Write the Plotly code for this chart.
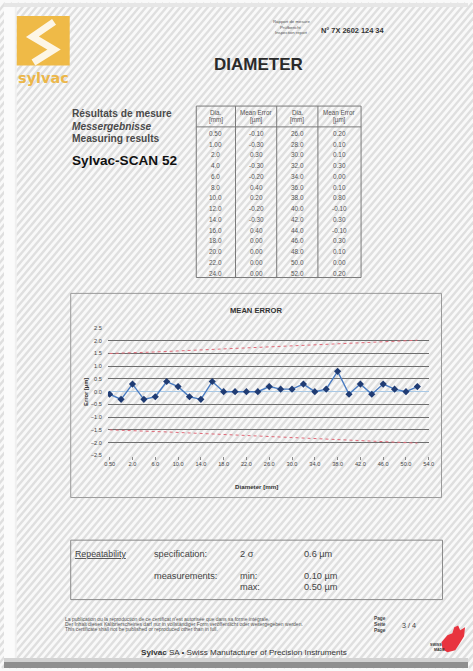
import plotly.graph_objects as go

W, H = 473, 671

# ---------------- data ----------------
diameters = [0.5, 1.0, 2.0, 4.0, 6.0, 8.0, 10.0, 12.0, 14.0, 16.0, 18.0, 20.0, 22.0, 24.0,
             26.0, 28.0, 30.0, 32.0, 34.0, 36.0, 38.0, 40.0, 42.0, 44.0, 46.0, 48.0, 50.0, 52.0]
dia_labels = ["0.50", "1.00", "2.0", "4.0", "6.0", "8.0", "10.0", "12.0", "14.0", "16.0", "18.0",
              "20.0", "22.0", "24.0", "26.0", "28.0", "30.0", "32.0", "34.0", "36.0", "38.0",
              "40.0", "42.0", "44.0", "46.0", "48.0", "50.0", "52.0"]
mean_error = [-0.10, -0.30, 0.30, -0.30, -0.20, 0.40, 0.20, -0.20, -0.30, 0.40, 0.00, 0.00, 0.00, 0.00,
              0.20, 0.10, 0.10, 0.30, 0.00, 0.10, 0.80, -0.10, 0.30, -0.10, 0.30, 0.10, 0.00, 0.20]
upper_limit = [1.50, 1.51, 1.52, 1.54, 1.56, 1.58, 1.60, 1.62, 1.64, 1.66, 1.68, 1.70, 1.72, 1.74,
               1.76, 1.78, 1.80, 1.82, 1.84, 1.86, 1.88, 1.90, 1.92, 1.94, 1.96, 1.98, 2.00, 2.02]
lower_limit = [-1.50, -1.51, -1.52, -1.54, -1.56, -1.58, -1.60, -1.62, -1.64, -1.66, -1.68, -1.70, -1.72, -1.74,
               -1.76, -1.78, -1.80, -1.82, -1.84, -1.86, -1.88, -1.90, -1.92, -1.94, -1.96, -1.98, -2.00, -2.02]
x_tick_labels = ["0.50", "2.0", "6.0", "10.0", "14.0", "18.0", "22.0", "26.0", "30.0", "34.0",
                 "38.0", "42.0", "46.0", "50.0", "54.0"]
table_headers = [("Dia.", "[mm]"), ("Mean Error", "[µm]"), ("Dia.", "[mm]"), ("Mean Error", "[µm]")]
repeat_spec = "0.6 µm"
repeat_min = "0.10 µm"
repeat_max = "0.50 µm"

FONT = "Liberation Sans"
TXT = "#3d3d3d"


def px(x):
    return x / W


def py(y):
    return 1 - y / H


annotations = []
shapes = []


def text(t, x, y, size, color=TXT, xanchor="left", yanchor="middle", angle=0, family=FONT):
    annotations.append(dict(text=t, x=px(x), y=py(y), xref="paper", yref="paper",
                            showarrow=False, xanchor=xanchor, yanchor=yanchor,
                            textangle=angle, borderpad=0,
                            font=dict(size=size, color=color, family=family)))


def rect(x0, y0, x1, y1, line=None, fill=None, width=1, layer="below"):
    shapes.append(dict(type="rect", xref="paper", yref="paper",
                       x0=px(x0), x1=px(x1), y0=py(y1), y1=py(y0),
                       line=dict(color=line if line else "rgba(0,0,0,0)", width=width if line else 0),
                       fillcolor=fill if fill else "rgba(0,0,0,0)", layer=layer))


def seg(x0, y0, x1, y1, color, width=1, layer="below"):
    shapes.append(dict(type="line", xref="paper", yref="paper",
                       x0=px(x0), x1=px(x1), y0=py(y0), y1=py(y1),
                       line=dict(color=color, width=width), layer=layer))


def path(points, line=None, fill=None, width=1, closed=True, layer="above"):
    d = "M " + " L ".join(f"{px(a):.5f},{py(b):.5f}" for a, b in points)
    if closed:
        d += " Z"
    shapes.append(dict(type="path", xref="paper", yref="paper", path=d,
                       line=dict(color=line if line else "rgba(0,0,0,0)", width=width if line else 0),
                       fillcolor=fill if fill else "rgba(0,0,0,0)", layer=layer))


# ---------------- page background (scan stripes) ----------------
for k in range(-90, 75):
    xb = 12 + k * 7.0
    seg(xb, H, xb + H * 0.85, 0, "#dfdfdf", 2.4)
rect(0, 0, 12, H, fill="#fbfbfb")
rect(11, 0, 13, H, fill="#f0f0f0")
rect(0, 0, W, 4, fill="#e6e6e6")
rect(0, 661, W, 665, fill="#d3d3d3")
rect(0, 665, W, H, fill="#8f8f8f")

# ---------------- logo ----------------
rect(13, 13, 67, 63, fill="#efba47", layer="above")
path([(51, 19), (29, 34), (51, 47), (30, 60)], line="#fdf6e6", width=7, closed=False)
text("<b>sylvac</b>", 40, 75.5, 14.5, color="#ecb74a", xanchor="center", family="DejaVu Sans")

# ---------------- header ----------------
text("Rapport de mesure", 293, 19, 4.3, color="#555", xanchor="center")
text("Prüfbericht", 293, 24.5, 4.3, color="#555", xanchor="center")
text("Inspection report", 293, 30, 4.3, color="#555", xanchor="center")
text("<b>N° 7X 2602 124 34</b>", 322, 28, 7.4, color="#333")
text("<b>DIAMETER</b>", 259, 62.5, 17, color="#2a2a2a", xanchor="center")

text("<b>Résultats de mesure</b>", 68, 111.5, 10.2, color="#4a4a4a")
text("<b><i>Messergebnisse</i></b>", 68, 124.5, 10.2, color="#4a4a4a")
text("<b>Measuring results</b>", 68, 137, 10.2, color="#4a4a4a")
text("<b>Sylvac-SCAN 52</b>", 68, 159, 13.6, color="#111")

# ---------------- results table ----------------
col_edges = [196, 236, 278, 320, 364]
t_top, t_head, t_bot = 104, 125, 277
row0, row_h = 131.5, 10.85
rect(col_edges[0], t_top, col_edges[-1], t_bot, line="#7a7a7a", width=1)
seg(col_edges[0], t_head, col_edges[-1], t_head, "#7a7a7a", 1)
for xe in col_edges[1:-1]:
    seg(xe, t_top, xe, t_bot, "#7a7a7a", 1)
centers = [(col_edges[i] + col_edges[i + 1]) / 2 for i in range(4)]
for c, (h1, h2) in enumerate(table_headers):
    text(h1, centers[c], 110, 6.3, color="#555", xanchor="center")
    text(h2, centers[c], 118.5, 6.3, color="#555", xanchor="center")
half = len(diameters) // 2
for i in range(len(diameters)):
    r = i % half
    block = i // half
    yy = row0 + r * row_h
    text(dia_labels[i], centers[2 * block], yy, 6.4, color="#555", xanchor="center")
    text(f"{mean_error[i]:.2f}", centers[2 * block + 1], yy, 6.4, color="#555", xanchor="center")

# ---------------- chart frame ----------------
rect(68, 293, 446, 499, line="#9a9a9a", width=1)
text("<b>MEAN ERROR</b>", 257, 310, 7.6, color="#333", xanchor="center")
text("<b>Diameter [mm]</b>", 257, 488, 6.2, color="#333", xanchor="center")
text("<b>Error [µm]</b>", 84, 392, 5.8, color="#333", xanchor="center", angle=-90)

# ---------------- repeatability box ----------------
rect(68, 542, 447, 602, line="#8a8a8a", width=1)
text("<u>Repeatability</u>", 71, 556, 8.8, color="#444")
text("specification:", 152, 556, 9.2, color="#444")
text("2 σ", 240, 556, 9.2, color="#444")
text(repeat_spec, 305, 556, 9.2, color="#444")
text("measurements:", 152, 578, 9.2, color="#444")
text("min:", 240, 578, 9.2, color="#444")
text("max:", 240, 589, 9.2, color="#444")
text(repeat_min, 305, 578, 9.2, color="#444")
text(repeat_max, 305, 589, 9.2, color="#444")

# ---------------- footer ----------------
text("La publication ou la reproduction de ce certificat n'est autorisée que dans sa forme intégrale.",
     61, 621.5, 5.0, color="#555")
text("Der Inhalt dieses Kalibrierscheines darf nur in vollständiger Form veröffentlicht oder weitergegeben werden.",
     61, 626.5, 5.0, color="#555")
text("This certificate shall not be published or reproduced other than in full.",
     61, 631.5, 5.0, color="#555")
text("<b>Page</b>", 376, 621, 4.8, color="#444")
text("<b>Seite</b>", 376, 627, 4.8, color="#444")
text("<b>Page</b>", 376, 633, 4.8, color="#444")
text("3 / 4", 413, 628, 7.2, color="#444", xanchor="center")
text("<b>Sylvac</b> SA • Swiss Manufacturer of Precision Instruments", 245, 655, 8.1,
     color="#333", xanchor="center")
path([(446, 645), (452, 638), (457, 636), (459, 630), (463, 628), (465, 633), (470, 630),
      (469, 639), (464, 647), (460, 653), (452, 655), (447, 652)], fill="#e8343f")
text("<b>SWISS</b>", 440, 647.5, 3.6, color="#333", xanchor="center")
text("<b>MADE</b>", 444, 652.5, 3.6, color="#333", xanchor="center")

# ---------------- chart traces ----------------
xi = list(range(len(diameters)))
fig = go.Figure()
fig.add_trace(go.Scatter(x=xi, y=upper_limit, mode="lines",
                         line=dict(color="#e06a78", width=1, dash="dot"), hoverinfo="skip"))
fig.add_trace(go.Scatter(x=xi, y=lower_limit, mode="lines",
                         line=dict(color="#e06a78", width=1, dash="dot"), hoverinfo="skip"))
fig.add_trace(go.Scatter(x=xi, y=mean_error, mode="lines+markers",
                         line=dict(color="#4a7cc2", width=1.4),
                         marker=dict(symbol="diamond", size=5.5, color="#1f3b73")))

tick_positions = [2 * i for i in range(len(x_tick_labels))]

fig.update_layout(
    width=W, height=H, autosize=False,
    margin=dict(l=0, r=0, t=0, b=0),
    paper_bgcolor="#f9f9f9", plot_bgcolor="rgba(0,0,0,0)",
    showlegend=False,
    font=dict(family=FONT, color=TXT),
    xaxis=dict(domain=[px(106), px(433)], range=[-0.15, 28], tickvals=tick_positions,
               ticktext=x_tick_labels, showgrid=False, zeroline=False, showline=False,
               ticks="outside", ticklen=3, tickcolor="#888", tickwidth=1,
               tickfont=dict(size=5.6, color="#444", family=FONT), fixedrange=True),
    yaxis=dict(domain=[py(456.7), py(327.7)], range=[-2.51, 2.51], dtick=0.5, tick0=0,
               tickformat=".1f", showgrid=True, gridcolor="#6e6e6e", gridwidth=1,
               zeroline=True, zerolinecolor="#a9c9e6", zerolinewidth=1,
               ticks="outside", ticklen=4, tickcolor="rgba(0,0,0,0)",
               tickfont=dict(size=5.6, color="#444", family=FONT), fixedrange=True),
    shapes=shapes,
    annotations=annotations,
)

fig.write_html("out.html", config={"displayModeBar": False},
               post_script="document.body.style.margin='0';document.body.style.overflow='hidden';")
